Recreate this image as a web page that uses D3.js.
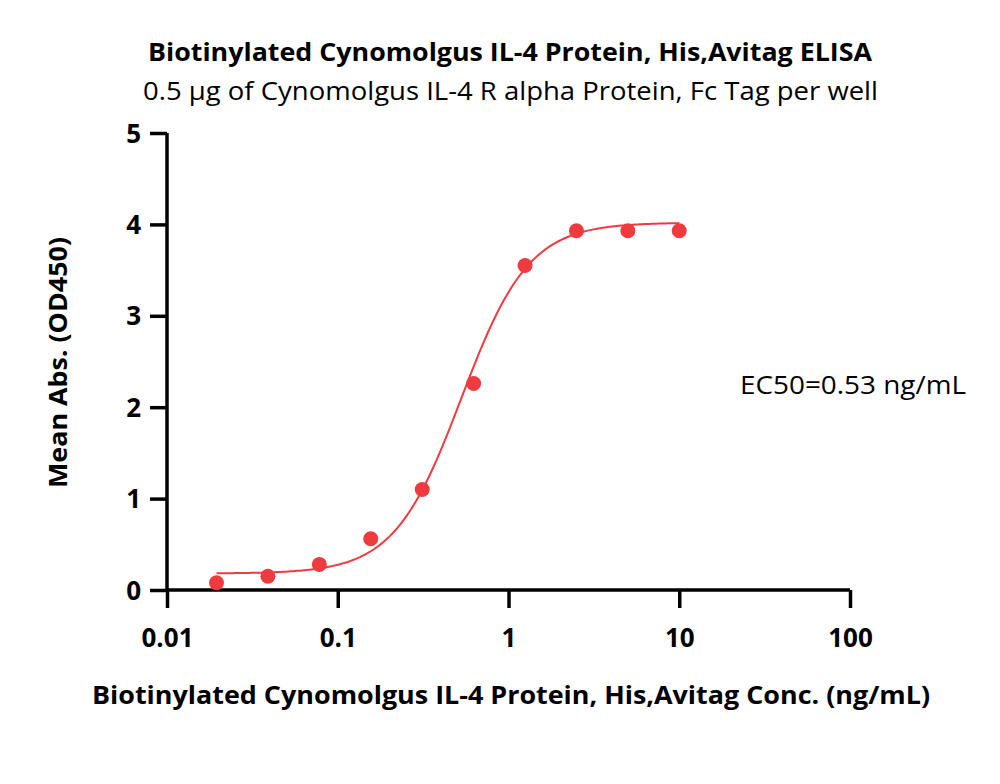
<!DOCTYPE html>
<html>
<head>
<meta charset="utf-8">
<script src="https://cdn.jsdelivr.net/npm/d3@7"></script>
<style>
  body { margin: 0; background: #fff; }
  svg { font-family: "Open Sans", "Noto Sans", sans-serif; }
</style>
</head>
<body>
<svg id="svg" width="1000" height="784"></svg>
<script>
// measured points
var conc = [0.0195, 0.039, 0.078, 0.156, 0.3125, 0.625, 1.25, 2.5, 5, 10];
var absVals = [0.08, 0.15, 0.28, 0.56, 1.10, 2.26, 3.55, 3.93, 3.93, 3.93];
var xTicks = [0.01, 0.1, 1, 10, 100];
var yTicks = [0, 1, 2, 3, 4, 5];
// 4PL fit
var fitBottom = 0.18, fitTop = 4.02, fitEC50 = 0.53, fitHill = 2.2;

var svg = d3.select("#svg");
var padding = { top: 133, right: 150, bottom: 194, left: 167 };
var chartArea = { width: 683, height: 457 };
var red = "#ef3b3f";

var xScale = d3.scaleLog().domain([0.01, 100]).range([0, chartArea.width]);
var yScale = d3.scaleLinear().domain([0, 5]).range([chartArea.height, 0]);

var g = svg.append("g")
  .attr("transform", "translate(" + padding.left + "," + padding.top + ")");

//x-axis
var xAxis = g.append("g")
  .attr("transform", "translate(0," + chartArea.height + ")")
  .call(d3.axisBottom(xScale).tickValues(xTicks).tickSize(18).tickSizeOuter(0)
    .tickFormat(function (d) { return String(d); }));

//y-axis
var yAxis = g.append("g")
  .call(d3.axisLeft(yScale).tickValues(yTicks).tickSize(17).tickSizeOuter(0)
    .tickFormat(d3.format("d")));

[xAxis, yAxis].forEach(function (ax) {
  ax.select(".domain").attr("stroke", "#000").attr("stroke-width", 3.5);
  ax.selectAll(".tick line").attr("stroke", "#000").attr("stroke-width", 3.5);
  ax.selectAll(".tick text").attr("fill", "#000")
    .style("font-size", "26px").style("font-weight", "bold")
    .style("font-family", "'Open Sans', sans-serif");
});
xAxis.select(".domain").attr("d", "M0,0H" + chartArea.width);
yAxis.select(".domain").attr("d", "M0," + (chartArea.height + 1.75) + "V0");
xAxis.selectAll(".tick text").attr("dy", "0").attr("y", 57);
yAxis.selectAll(".tick text").attr("x", -26).attr("dy", "0.35em");

//fit curve
var curve = d3.range(0, 201).map(function (i) {
  var lx = Math.log10(conc[0]) + i / 200 * (Math.log10(conc[conc.length - 1]) - Math.log10(conc[0]));
  var x = Math.pow(10, lx);
  return [x, fitBottom + (fitTop - fitBottom) / (1 + Math.pow(fitEC50 / x, fitHill))];
});
g.append("path")
  .datum(curve)
  .attr("fill", "none")
  .attr("stroke", red)
  .attr("stroke-width", 2)
  .attr("d", d3.line()
    .x(function (d) { return xScale(d[0]); })
    .y(function (d) { return yScale(d[1]); }));

//points
g.selectAll("circle")
  .data(conc)
  .enter()
  .append("circle")
  .attr("cx", function (d) { return xScale(d); })
  .attr("cy", function (d, i) { return yScale(absVals[i]); })
  .attr("r", 7.5)
  .attr("fill", red);

//titles
function label(x, y, txt, size, bold, len) {
  return svg.append("text")
    .attr("x", x).attr("y", y)
    .attr("textLength", len).attr("lengthAdjust", "spacingAndGlyphs")
    .style("font-size", size + "px").style("font-weight", bold ? "bold" : "normal")
    .text(txt);
}
label(148, 61, "Biotinylated Cynomolgus IL-4 Protein, His,Avitag ELISA", 25, true, 724);
label(143, 100, "0.5 µg of Cynomolgus IL-4 R alpha Protein, Fc Tag per well", 26, false, 735);
label(92, 704, "Biotinylated Cynomolgus IL-4 Protein, His,Avitag Conc. (ng/mL)", 25, true, 838);
label(740, 394, "EC50=0.53 ng/mL", 26, false, 226);
svg.append("text")
  .attr("transform", "translate(67,488) rotate(-90)")
  .attr("textLength", 251).attr("lengthAdjust", "spacingAndGlyphs")
  .style("font-size", "25px").style("font-weight", "bold")
  .text("Mean Abs. (OD450)");
</script>
</body>
</html>
